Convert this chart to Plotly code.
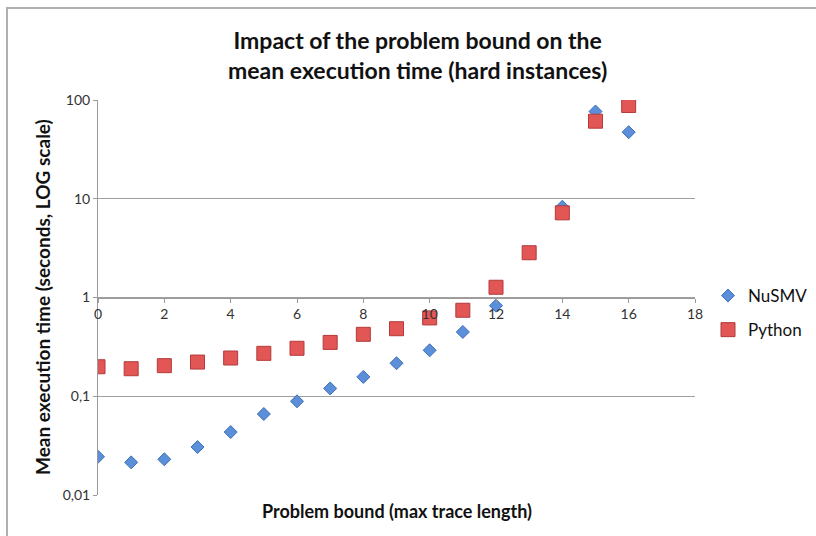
import plotly.graph_objects as go

bounds = list(range(17))
nusmv = [0.0244, 0.0214, 0.0230, 0.0306, 0.0434, 0.0661, 0.0889, 0.120, 0.157,
         0.216, 0.292, 0.448, 0.826, 2.80, 8.3, 76.5, 47.2]
python = [0.199, 0.190, 0.204, 0.222, 0.244, 0.272, 0.306, 0.351, 0.424,
          0.483, 0.621, 0.743, 1.27, 2.84, 7.2, 61.0, 88.0]

x_ticks = [0, 2, 4, 6, 8, 10, 12, 14, 16, 18]
y_ticks = [0.01, 0.1, 1, 10, 100]
y_tick_labels = ["0,01", "0,1", "1", "10", "100"]

FONT = "Lato, 'Open Sans', sans-serif"

fig = go.Figure()
fig.add_trace(go.Scatter(
    x=bounds, y=nusmv, mode="markers", name="NuSMV", legendgroup="a",
    marker=dict(symbol="diamond", size=10, color="#5B8FD9",
                line=dict(color="#3F6FB5", width=1)),
))
fig.add_trace(go.Scatter(
    x=bounds, y=python, mode="markers", name="Python", legendgroup="b",
    marker=dict(symbol="square", size=14, color="#E35656",
                line=dict(color="#B23A3A", width=1)),
))

W, H = 816, 536
L, R, T, B = 98, 121, 100, 41
pw, ph = W - L - R, H - T - B

def px(x):
    return (x - L) / pw

def py(y):
    return (H - B - y) / ph

fig.update_layout(
    width=W, height=H,
    margin=dict(l=L, r=R, t=T, b=B, autoexpand=False),
    paper_bgcolor="white", plot_bgcolor="white",
    font=dict(family=FONT, color="#222"),
    showlegend=True,
    legend=dict(x=px(708), y=py(313), xanchor="left", yanchor="middle",
                font=dict(size=17, color="#111"), tracegroupgap=9,
                traceorder="grouped",
                itemsizing="trace", bgcolor="rgba(0,0,0,0)"),
    xaxis=dict(range=[0, 18], tickvals=x_ticks, showgrid=False, zeroline=False,
               showline=True, linecolor="#9a9a9a", linewidth=1,
               ticks="outside", ticklen=4, tickcolor="#9a9a9a",
               anchor="free", position=0.5,
               tickfont=dict(size=14, color="#333")),
    yaxis=dict(type="log", range=[-2, 2], tickvals=y_ticks, ticktext=y_tick_labels,
               showgrid=True, gridcolor="#a0a0a0", gridwidth=1,
               showline=True, linecolor="#9a9a9a", linewidth=1,
               ticks="outside", ticklen=4, tickcolor="#9a9a9a",
               zeroline=False, tickfont=dict(size=14, color="#333")),
    annotations=[
        dict(text="<b>Impact of the problem bound on the<br>mean execution time (hard instances)</b>",
             xref="paper", yref="paper", x=px(417), y=py(55),
             xanchor="center", yanchor="middle", showarrow=False,
             font=dict(size=23, color="#111")),
        dict(text="<b>Mean execution time (seconds, LOG scale)</b>",
             xref="paper", yref="paper", x=px(42), y=py(297),
             xanchor="center", yanchor="middle", textangle=-90, showarrow=False,
             font=dict(size=19, color="#111")),
        dict(text="<b>Problem bound (max trace length)</b>",
             xref="paper", yref="paper", x=px(397), y=py(511),
             xanchor="center", yanchor="middle", showarrow=False,
             font=dict(size=18, color="#111")),
    ],
    shapes=[
        dict(type="rect", xref="paper", yref="paper",
             x0=px(7), y0=py(545), x1=px(830), y1=py(8),
             line=dict(color="#b0b0b0", width=2), layer="below"),
    ],
)

fig.write_html("out.html", config={"displayModeBar": False},
               post_script="document.body.style.margin='0';document.body.style.overflow='hidden';")
